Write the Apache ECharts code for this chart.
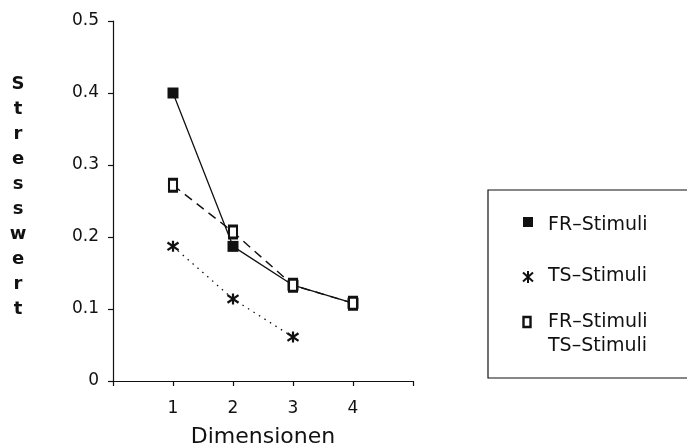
<!DOCTYPE html>
<html>
<head>
<meta charset="utf-8">
<script src="https://cdn.jsdelivr.net/npm/echarts@6/dist/echarts.min.js"></script>
<style>
  html, body { margin: 0; padding: 0; background: #fff; }
  #chart { width: 687px; height: 448px; }
</style>
</head>
<body>
<div id="chart"></div>
<script>
// Stress values by number of dimensions
const dimensions = [1, 2, 3, 4];
const frStimuli = [0.400, 0.187, 0.133, 0.108];
const tsStimuli = [0.187, 0.114, 0.061];
const frTsStimuli = [0.272, 0.207, 0.133, 0.108];
const yTicks = [0, 0.1, 0.2, 0.3, 0.4, 0.5];
const legendNames = ['FR\u2013Stimuli', 'TS\u2013Stimuli', 'FR\u2013Stimuli\nTS\u2013Stimuli'];

const FONT = 'DejaVu Sans';
const starPath = 'path://M5 0 L5 10 M0.7 1.5 L9.3 8.5 M9.3 1.5 L0.7 8.5';

const pairs = (xs, ys) => ys.map((v, i) => [xs[i], v]);

// six-armed star for the legend, built from three strokes
const starLine = (x1, y1, x2, y2) => ({
  type: 'line', shape: { x1, y1, x2, y2 },
  style: { stroke: '#111', lineWidth: 2 }
});

const chart = echarts.init(document.getElementById('chart'));
chart.setOption({
  animation: false,
  backgroundColor: '#fff',
  grid: { left: 113, right: 274, top: 21, bottom: 67, outerBoundsMode: 'none', containLabel: false },
  xAxis: {
    type: 'value', min: 0, max: 5, interval: 1,
    name: 'Dimensionen', nameLocation: 'middle', nameGap: 45,
    nameTextStyle: { fontFamily: FONT, fontSize: 22, color: '#111', letterSpacing: 0.8 },
    axisLine: { lineStyle: { color: '#111', width: 1.2 } },
    axisTick: { show: true, length: 5, lineStyle: { color: '#111', width: 1.2 } },
    axisLabel: {
      margin: 19, fontFamily: FONT, fontSize: 17, color: '#111',
      formatter: v => (v >= 1 && v <= 4 ? String(v) : '')
    },
    splitLine: { show: false }
  },
  yAxis: {
    type: 'value', min: 0, max: 0.5, interval: 0.1,
    axisLine: { show: true, lineStyle: { color: '#111', width: 1.2 } },
    axisTick: { show: true, length: 5, lineStyle: { color: '#111', width: 1.2 } },
    axisLabel: {
      margin: 14, fontFamily: FONT, fontSize: 17, color: '#111',
      formatter: v => {
        const t = yTicks.find(k => Math.abs(k - v) < 1e-9);
        return t === 0 ? '0' : t.toFixed(1);
      }
    },
    splitLine: { show: false }
  },
  series: [
    {
      name: legendNames[0], type: 'line', data: pairs(dimensions, frStimuli),
      symbol: 'rect', symbolSize: 11,
      itemStyle: { color: '#111' },
      lineStyle: { color: '#111', width: 1.3, type: 'solid' },
      z: 2
    },
    {
      name: legendNames[2], type: 'line', data: pairs(dimensions, frTsStimuli),
      symbol: 'rect', symbolSize: [8, 12],
      itemStyle: { color: '#fff', borderColor: '#111', borderWidth: 2.5 },
      lineStyle: { color: '#111', width: 1.4, type: [9, 6] },
      z: 3
    },
    {
      name: legendNames[1], type: 'line', data: pairs(dimensions, tsStimuli),
      symbol: starPath, symbolSize: 11,
      itemStyle: { color: 'none', borderColor: '#111', borderWidth: 2.2 },
      lineStyle: { color: '#111', width: 1.3, type: [1.5, 5] },
      z: 2
    }
  ],
  graphic: [
    // vertical axis title, one letter per line
    {
      type: 'text', x: 18, y: 72,
      style: {
        text: 'Stresswert'.split('').join('\n'),
        font: 'bold 18px ' + FONT, fill: '#111',
        lineHeight: 25, align: 'center', verticalAlign: 'top'
      }
    },
    // legend frame
    {
      type: 'rect', shape: { x: 488, y: 190, width: 210, height: 188 },
      style: { fill: 'none', stroke: '#111', lineWidth: 1.2 }
    },
    {
      type: 'rect', shape: { x: 523, y: 217, width: 10, height: 10 },
      style: { fill: '#111' }
    },
    {
      type: 'text', x: 548, y: 225,
      style: { text: legendNames[0], font: '19px ' + FONT, fill: '#111', verticalAlign: 'middle', letterSpacing: 1.2 }
    },
    starLine(528, 271, 528, 283),
    starLine(523, 272.5, 533, 281.5),
    starLine(533, 272.5, 523, 281.5),
    {
      type: 'text', x: 548, y: 276,
      style: { text: legendNames[1], font: '19px ' + FONT, fill: '#111', verticalAlign: 'middle', letterSpacing: 1.2 }
    },
    {
      type: 'rect', shape: { x: 523.5, y: 317, width: 7, height: 10 },
      style: { fill: '#fff', stroke: '#111', lineWidth: 2.4 }
    },
    {
      type: 'text', x: 548, y: 310,
      style: { text: legendNames[2], font: '19px ' + FONT, fill: '#111', lineHeight: 24, verticalAlign: 'top', letterSpacing: 1.2 }
    }
  ]
});
</script>
</body>
</html>
